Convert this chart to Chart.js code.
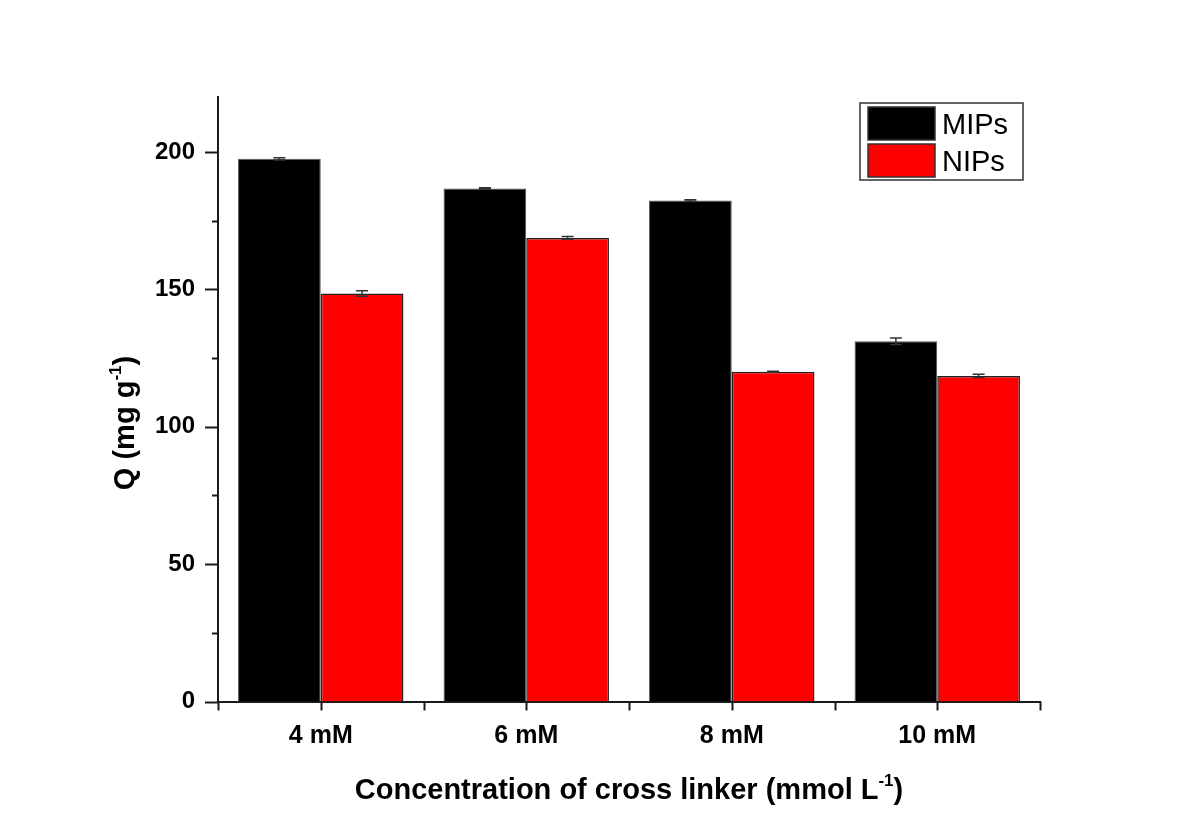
<html>
<head>
<meta charset="utf-8">
<title>cross linker</title>
<script src="https://cdn.jsdelivr.net/npm/chart.js@4.4.1/dist/chart.umd.min.js"></script>
<style>
  body { margin: 0; background: #fff; }
  #wrap { width: 1201px; height: 836px; }
</style>
</head>
<body>
<div id="wrap"><canvas id="canvas" width="1201" height="836"></canvas></div>
<script>
// values
var categories = ['4 mM', '6 mM', '8 mM', '10 mM'];
var mips = [197.5, 186.7, 182.3, 131.1];
var mipsErr = [0.4, 0.3, 0.3, 1.2];
var nips = [148.5, 168.7, 120.0, 118.5];
var nipsErr = [1.0, 0.5, 0.2, 0.6];
var yTicks = [0, 25, 50, 75, 100, 125, 150, 175, 200];

var ink = '#1a1a1a';
var fam = '"Liberation Sans", Arial, sans-serif';

// draws text + superscript + closing part, starting at x
function supText(ctx, x, y, a, s, b, size) {
  ctx.font = 'bold ' + size + 'px ' + fam;
  var w1 = ctx.measureText(a).width;
  ctx.fillText(a, x, y);
  ctx.font = 'bold ' + Math.round(size * 0.6) + 'px ' + fam;
  var w2 = ctx.measureText(s).width;
  ctx.fillText(s, x + w1, y - size * 0.45);
  ctx.font = 'bold ' + size + 'px ' + fam;
  ctx.fillText(b, x + w1 + w2, y);
}
function supWidth(ctx, a, s, b, size) {
  ctx.font = 'bold ' + size + 'px ' + fam;
  var w = ctx.measureText(a + b).width;
  ctx.font = 'bold ' + Math.round(size * 0.6) + 'px ' + fam;
  return w + ctx.measureText(s).width;
}

// error bars, axis ticks, titles and legend box
var extras = {
  id: 'extras',
  afterDatasetsDraw: function (chart) {
    var ctx = chart.ctx;
    var y = chart.scales.y;
    ctx.save();
    ctx.strokeStyle = '#333';
    ctx.lineWidth = 1.5;
    chart.data.datasets.forEach(function (ds, di) {
      var meta = chart.getDatasetMeta(di);
      meta.data.forEach(function (bar, i) {
        var v = ds.data[i], e = ds.errors[i];
        var top = y.getPixelForValue(v + e), bot = y.getPixelForValue(v - e);
        ctx.beginPath();
        ctx.moveTo(bar.x, top); ctx.lineTo(bar.x, bot);
        ctx.moveTo(bar.x - 6, top); ctx.lineTo(bar.x + 6, top);
        ctx.moveTo(bar.x - 6, bot); ctx.lineTo(bar.x + 6, bot);
        ctx.stroke();
      });
    });
    ctx.restore();
  },
  afterDraw: function (chart) {
    var ctx = chart.ctx;
    var x = chart.scales.x, y = chart.scales.y;
    var area = chart.chartArea;
    ctx.save();
    ctx.strokeStyle = ink;
    ctx.lineWidth = 2;
    ctx.beginPath();
    // y ticks, major ones longer
    yTicks.forEach(function (v) {
      var py = Math.round(y.getPixelForValue(v)) + 0.5;
      var len = v % 50 === 0 ? 13 : 6;
      ctx.moveTo(area.left - len, py); ctx.lineTo(area.left, py);
    });
    // x ticks at centres and boundaries
    var step = x.width / categories.length;
    for (var i = 0; i <= categories.length * 2; i++) {
      var px = Math.round(area.left + i * step / 2) + 0.5;
      ctx.moveTo(px, area.bottom); ctx.lineTo(px, area.bottom + 9);
    }
    ctx.stroke();

    ctx.fillStyle = '#000';
    ctx.textBaseline = 'alphabetic';
    ctx.textAlign = 'left';

    // x title
    var tw = supWidth(ctx, 'Concentration of cross linker (mmol L', '-1', ')', 29);
    supText(ctx, (area.left + area.right) / 2 - tw / 2, 799,
      'Concentration of cross linker (mmol L', '-1', ')', 29);

    // y title
    ctx.save();
    ctx.translate(134, 423);
    ctx.rotate(-Math.PI / 2);
    var qw = supWidth(ctx, 'Q (mg g', '-1', ')', 29);
    supText(ctx, -qw / 2, 0, 'Q (mg g', '-1', ')', 29);
    ctx.restore();

    // legend box
    ctx.lineWidth = 1.5;
    ctx.strokeStyle = '#333';
    ctx.strokeRect(860, 103, 163, 77);
    ctx.font = '29px ' + fam;
    chart.data.datasets.forEach(function (ds, di) {
      var sy = 107 + di * 37;
      ctx.fillStyle = ds.backgroundColor;
      ctx.fillRect(868, sy, 67, 33);
      ctx.strokeStyle = '#333';
      ctx.strokeRect(868, sy, 67, 33);
      ctx.fillStyle = '#000';
      ctx.fillText(ds.label, 942, sy + 27);
    });
    ctx.restore();
  }
};

new Chart(document.getElementById('canvas'), {
  type: 'bar',
  data: {
    labels: categories,
    datasets: [{
      label: 'MIPs',
      data: mips,
      errors: mipsErr,
      backgroundColor: '#000000',
      borderColor: '#555',
      borderWidth: 1,
      barPercentage: 1,
      categoryPercentage: 0.805
    }, {
      label: 'NIPs',
      data: nips,
      errors: nipsErr,
      backgroundColor: '#ff0000',
      borderColor: '#222',
      borderWidth: 1.5,
      barPercentage: 1,
      categoryPercentage: 0.805
    }]
  },
  options: {
    responsive: false,
    animation: false,
    layout: { padding: { top: 97, right: 161, left: 0, bottom: 0 } },
    plugins: {
      legend: { display: false },
      tooltip: { enabled: false }
    },
    scales: {
      x: {
        offset: true,
        grid: { display: false, drawTicks: false },
        border: { display: true, color: ink, width: 2 },
        ticks: {
          color: '#000',
          padding: 20,
          font: { family: fam, size: 25, weight: 'bold' }
        },
        afterFit: function (s) { s.height = 836 - 701.5; }
      },
      y: {
        min: 0,
        max: 220,
        grid: { display: false, drawTicks: false },
        border: { display: true, color: ink, width: 2 },
        afterBuildTicks: function (s) {
          s.ticks = yTicks.map(function (v) { return { value: v }; });
        },
        ticks: {
          color: '#000',
          padding: 23,
          callback: function (v) { return v % 50 === 0 ? v : ''; },
          font: { family: fam, size: 24, weight: 'bold' }
        },
        afterFit: function (s) { s.width = 218; }
      }
    }
  },
  plugins: [extras]
});
</script>
</body>
</html>
